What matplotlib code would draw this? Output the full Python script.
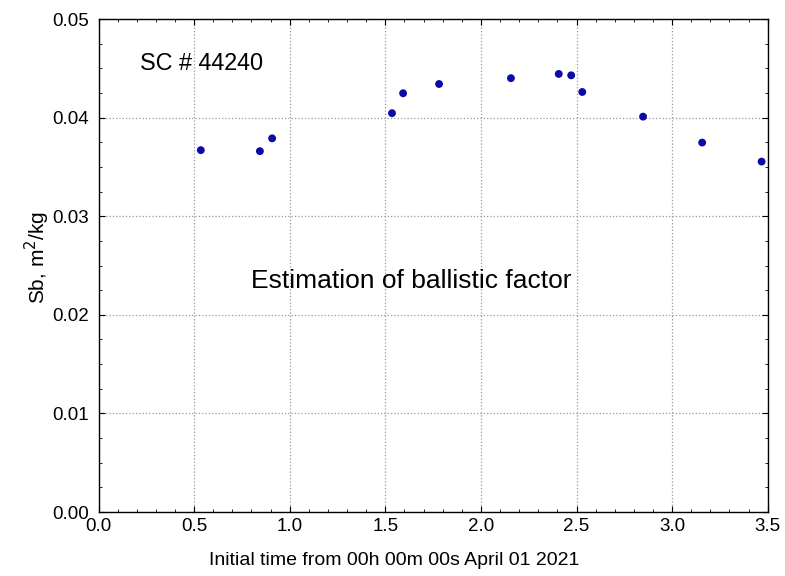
import matplotlib
matplotlib.use("Agg")
import matplotlib.pyplot as plt
from matplotlib.ticker import MultipleLocator, FormatStrFormatter

plt.rcParams['font.family'] = ['Liberation Sans', 'DejaVu Sans']

time_h = [0.535, 0.844, 0.908, 1.535, 1.593, 1.781, 2.157, 2.407, 2.472, 2.530, 2.848, 3.157, 3.468]
sb = [0.0367, 0.0366, 0.0379, 0.04045, 0.04247, 0.04341, 0.0440, 0.04443, 0.04429, 0.0426, 0.0401, 0.03747, 0.03554]

fig = plt.figure(figsize=(7.85, 5.76), dpi=100)
ax = fig.add_axes([0.1255, 0.111, 0.8525, 0.856])
ax.scatter(time_h, sb, s=32, color='#0a0aa8', zorder=3, edgecolors='none')
ax.set_xlim(0, 3.5)
ax.set_ylim(0, 0.05)
ax.xaxis.set_major_locator(MultipleLocator(0.5))
ax.xaxis.set_minor_locator(MultipleLocator(0.1))
ax.yaxis.set_major_locator(MultipleLocator(0.01))
ax.yaxis.set_minor_locator(MultipleLocator(0.0025))
ax.xaxis.set_major_formatter(FormatStrFormatter('%.1f'))
ax.yaxis.set_major_formatter(FormatStrFormatter('%.2f'))
ax.tick_params(which='both', direction='in', top=True, right=True, labelsize=13.5)
ax.tick_params(which='major', length=4)
ax.tick_params(axis='y', which='major', pad=7)
ax.tick_params(axis='x', which='major', pad=4)
ax.tick_params(which='minor', length=2.5)
ax.grid(True, which='major', linestyle=':', color='#999999', linewidth=0.9)
for s in ax.spines.values():
    s.set_linewidth(1.0)
ax.set_xlabel('Initial time from 00h 00m 00s April 01 2021', fontsize=14)
ax.xaxis.set_label_coords((394 - 98.5) / 669.5, -(560 - 512) / 493, transform=ax.transAxes)
ax.xaxis.label.set_va('center')
ax.set_ylabel('Sb, m$^2$/kg', fontsize=15)
ax.yaxis.set_label_coords(-(98.5 - 37) / 669.5, (512 - 257) / 493, transform=ax.transAxes)
ax.yaxis.label.set_va('center')
ax.text(0.217, 0.04483, 'SC # 44240', fontsize=16.8, va='baseline', ha='left')
ax.text(0.795, 0.02272, 'Estimation of ballistic factor', fontsize=19, va='baseline', ha='left')
fig.savefig('out.png', dpi=100)
